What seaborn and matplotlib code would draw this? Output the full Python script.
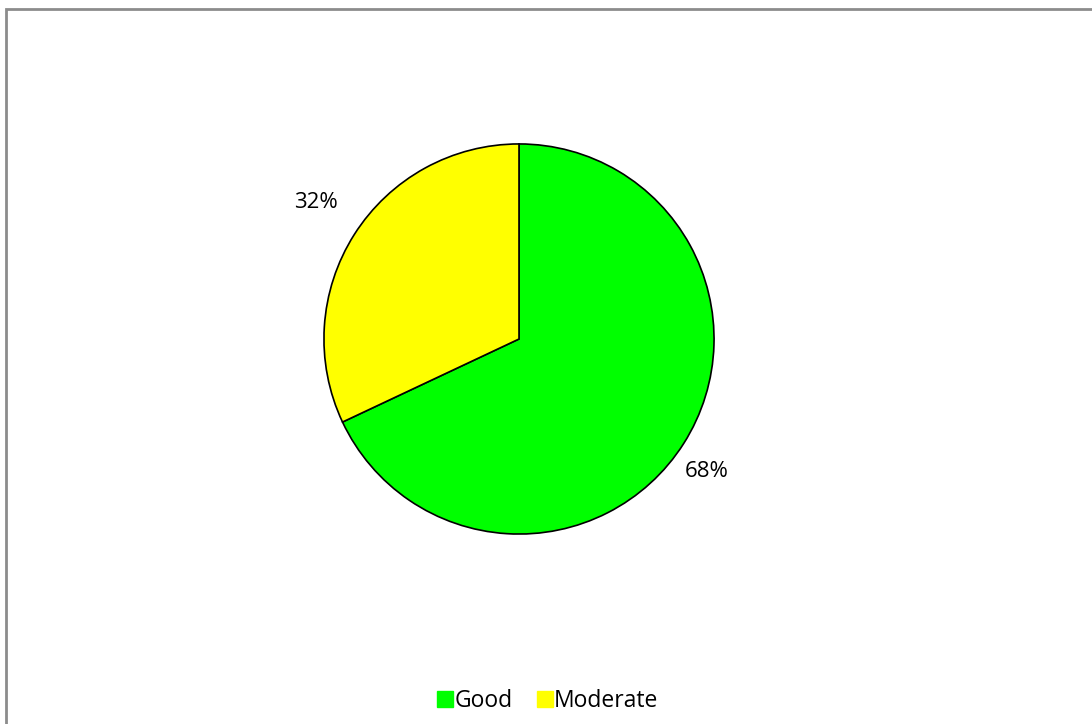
import matplotlib
matplotlib.use("Agg")
import matplotlib.pyplot as plt
import seaborn as sns
from matplotlib.patches import Rectangle
from matplotlib.lines import Line2D

# Data
categories = ['Good', 'Moderate']
shares = [68, 32]
colors = ['#00FF00', '#FFFF00']

sns.set_theme(style="white")
plt.rcParams['font.family'] = ['Open Sans', 'DejaVu Sans']

fig = plt.figure(figsize=(10.92, 7.24), dpi=100)

# outer grey frame (cut off at right and bottom like the original)
fig.patches.append(Rectangle((5.5 / 1092, -0.05), 1.2, 1 - 8.5 / 724 + 0.05,
                             transform=fig.transFigure, fill=False,
                             edgecolor='#8c8c8c', linewidth=2))

ax = fig.add_axes([322 / 1092, 188 / 724, 394 / 1092, 394 / 724])
wedges, texts, autotexts = ax.pie(
    shares, colors=colors, startangle=90, counterclock=False,
    autopct='%d%%', pctdistance=1.2,
    wedgeprops=dict(edgecolor='black', linewidth=1.2),
    textprops=dict(fontsize=16, color='black'))
# nudge the percentage labels to where the original puts them
autotexts[0].set_position((0.96, -0.68))
autotexts[1].set_position((-1.04, 0.70))
ax.set_xlim(-1.01, 1.01)
ax.set_ylim(-1.01, 1.01)
ax.axis('off')

handles = [Line2D([], [], marker='s', linestyle='', markersize=11,
                  markerfacecolor=c, markeredgecolor=c) for c in colors]
leg = fig.legend(handles, categories, loc='center', ncol=2,
                 bbox_to_anchor=(546 / 1092, 1 - 701 / 724), frameon=False,
                 fontsize=16.5, handletextpad=-0.1, columnspacing=0.9,
                 handlelength=1.0)
for t in leg.get_texts():
    t.set_color('black')

fig.savefig('out.png', dpi=100)
